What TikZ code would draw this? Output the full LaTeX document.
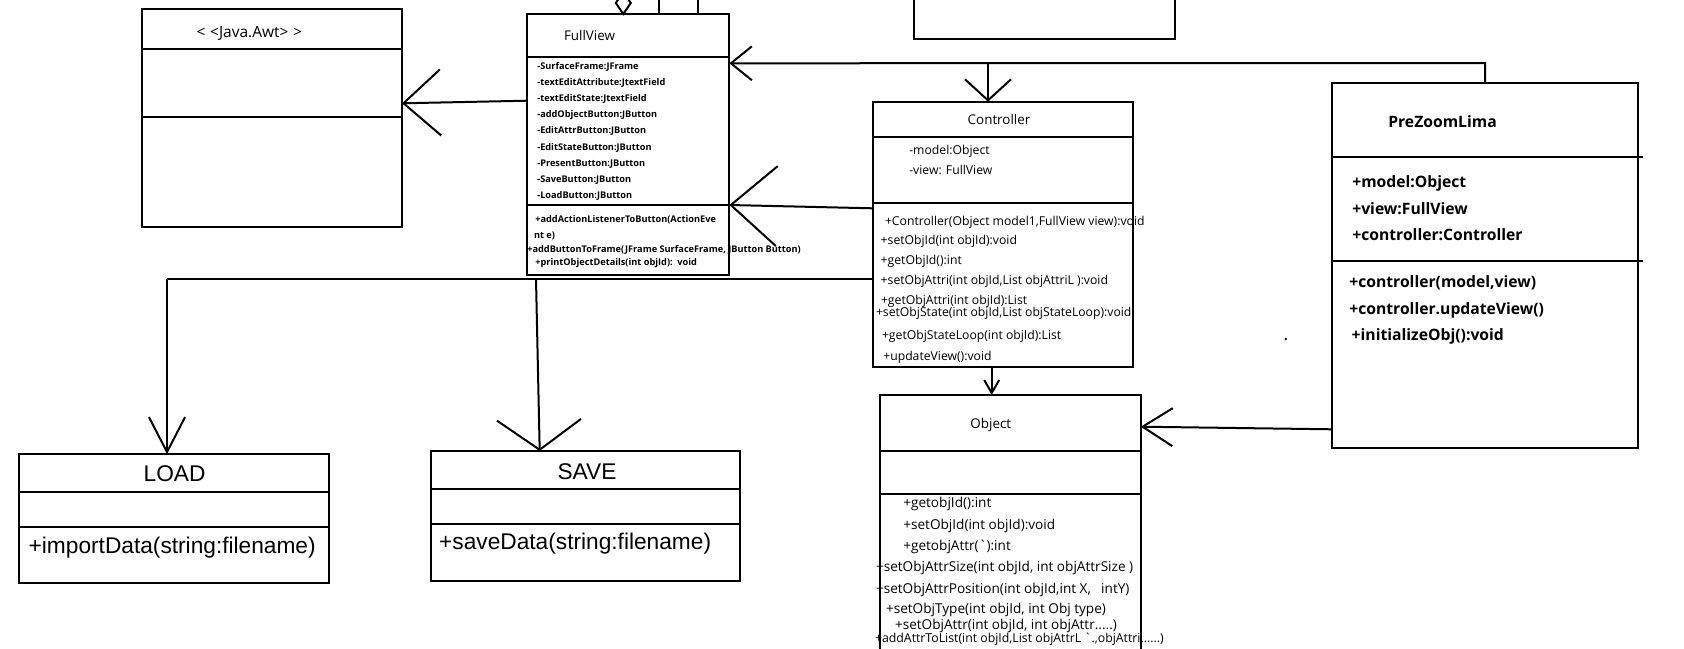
\documentclass[tikz,border=0pt]{standalone}
\usepackage{fontspec}
\setmainfont{Open Sans}
\newfontfamily\arialfont{Liberation Sans}
\usetikzlibrary{arrows.meta,shapes.geometric}

% font sizes (1pt = 1 unit of the drawing)
\newcommand\fsJava{\fontsize{15.5}{18}\selectfont}
\newcommand\fsTitle{\fontsize{13.4}{16}\selectfont}
\newcommand\fsFV{\fontsize{9.2}{11}\selectfont\bfseries}
\newcommand\fsCtl{\fontsize{12.2}{14}\selectfont}
\newcommand\fsObj{\fontsize{13.6}{16}\selectfont}
\newcommand\fsObjS{\fontsize{12.3}{14}\selectfont}
\newcommand\fsPZ{\fontsize{15.7}{18}\selectfont\bfseries}
\newcommand\fsIO{\fontsize{22.7}{26}\selectfont\arialfont}

\tikzset{
  umlbox/.style={draw, line width=2pt, inner sep=0pt, outer sep=0pt, anchor=north west},
  conn/.style={line width=2pt},
  txt/.style={inner sep=0pt, outer sep=0pt, anchor=base west},
  ttl/.style={inner sep=0pt, outer sep=0pt, anchor=base},
  barb/.style 2 args={conn, -{Straight Barb[length=#1, width=#2]}},
}

\begin{document}
\begin{tikzpicture}[x=1pt,y=-1pt]
\useasboundingbox (0,0) rectangle (1684,648);
\fill[white] (0,0) rectangle (1684,648);
\clip (0,0) rectangle (1684,648);

% ---------- class boxes ----------
\node[umlbox, minimum width=260.3pt, minimum height=218pt]   (java) at (141.7,8.7) {};
\node[umlbox, minimum width=202pt,   minimum height=261pt]   (fv)   at (527.3,14) {};
\node[umlbox, minimum width=261pt,   minimum height=69pt]    (top)  at (914,-30) {};
\node[umlbox, minimum width=260.6pt, minimum height=265.6pt] (ctrl) at (872.7,101.7) {};
\node[umlbox, minimum width=260.7pt, minimum height=275pt]   (obj)  at (880,395) {};
\node[umlbox, minimum width=306pt,   minimum height=365.6pt] (pzl)  at (1332.3,82.7) {};
\node[umlbox, minimum width=309.7pt, minimum height=128.7pt] (load) at (19.3,454.3) {};
\node[umlbox, minimum width=309.4pt, minimum height=129.7pt] (save) at (430.6,451) {};

% compartment lines
\draw[conn] (java.west |- 0,48.7)  -- (java.east |- 0,48.7);
\draw[conn] (java.west |- 0,116.7) -- (java.east |- 0,116.7);
\draw[conn] (fv.west |- 0,56.7)    -- (fv.east |- 0,56.7);
\draw[conn] (fv.west |- 0,204.7)   -- (fv.east |- 0,204.7);
\draw[conn] (ctrl.west |- 0,136.7) -- (ctrl.east |- 0,136.7);
\draw[conn] (ctrl.west |- 0,202.7) -- (ctrl.east |- 0,202.7);
\draw[conn] (obj.west |- 0,451)    -- (obj.east |- 0,451);
\draw[conn] (obj.west |- 0,494)    -- (obj.east |- 0,494);
\draw[conn] (pzl.west |- 0,157.3)  -- (1642.7,157.3);
\draw[conn] (pzl.west |- 0,260.7)  -- (1642.7,260.7);
\draw[conn] (load.west |- 0,492.3) -- (load.east |- 0,492.3);
\draw[conn] (load.west |- 0,527.3) -- (load.east |- 0,527.3);
\draw[conn] (save.west |- 0,489.3) -- (save.east |- 0,489.3);
\draw[conn] (save.west |- 0,524.3) -- (save.east |- 0,524.3);

% aggregation diamond and links on top of FullView
\node[diamond, draw, line width=2pt, inner sep=0pt, outer sep=0pt,
      minimum width=15pt, minimum height=22pt] (agg) at (623.3,3) {};
\draw[conn] (fv.north -| 659.3,0) -- (659.3,-10);
\draw[conn] (fv.north -| 698.3,0) -- (698.3,-10);

% ---------- texts ----------
\node[txt, font=\fsJava] (javat) at (196.7,37.1) {<\hspace{0.3em}<Java.Awt>\hspace{0.3em}>};

\node[txt, font=\fsTitle] (fvt) at (564,40.9) {FullView};
\foreach \t [count=\i] in {-SurfaceFrame:JFrame, -textEditAttribute:JtextField,
    -textEditState:JtextField, -addObjectButton:JButton, -EditAttrButton:JButton,
    -EditStateButton:JButton, -PresentButton:JButton, -SaveButton:JButton,
    -LoadButton:JButton}
  \node[txt, font=\fsFV] (fva\i) at (537.3,{52.8+16.2*\i}) {\t};
\node[txt, font=\fsFV] (fvm1) at (535.3,222.6) {+addActionListenerToButton(ActionEve};
\node[txt, font=\fsFV] (fvm2) at (534,238.3) {nt e)};
\node[txt, font=\fsFV] (fvm3) at (527.3,252.6) {+addButtonToFrame(JFrame SurfaceFrame, JButton Button)};
\node[txt, font=\fsFV] (fvm4) at (535.3,265) {+printObjectDetails(int objId):\enspace void};

\node[ttl, font=\fsTitle] (ctrlt) at (999,124) {Controller};
\node[txt, font=\fsCtl] (ca1) at (909.3,154.4) {-model:Object};
\node[txt, font=\fsCtl] (ca2) at (909.3,174.4) {-view: FullView};
\node[txt, font=\fsCtl] (cm1) at (885,225.4)   {+Controller(Object model1,FullView view):void};
\node[txt, font=\fsCtl] (cm2) at (880.7,244.4) {+setObjId(int objId):void};
\node[txt, font=\fsCtl] (cm3) at (880.7,264.4) {+getObjId():int};
\node[txt, font=\fsCtl] (cm4) at (880.7,284.4) {+setObjAttri(int objId,List objAttriL ):void};
\node[txt, font=\fsCtl] (cm5) at (881,304.4)   {+getObjAttri(int objId):List};
\node[txt, font=\fsCtl] (cm6) at (876,316.7)   {+setObjState(int objId,List objStateLoop):void};
\node[txt, font=\fsCtl] (cm7) at (882,339.4)   {+getObjStateLoop(int objId):List};
\node[txt, font=\fsCtl] (cm8) at (883.3,360.4) {+updateView():void};

\node[ttl, font=\fsTitle] (objt) at (990.8,428) {Object};
\node[txt, font=\fsObj] (om1) at (903.3,507.2) {+getobjId():int};
\node[txt, font=\fsObj] (om2) at (903.3,529.9) {+setObjId(int objId):void};
\node[txt, font=\fsObj] (om3) at (903.3,550.6) {+getobjAttr(\textasciigrave):int};
\node[txt, font=\fsObj] (om4) at (876,571.6)   {+setObjAttrSize(int objId, int objAttrSize )};
\node[txt, font=\fsObj] (om5) at (876,593.2)   {+setObjAttrPosition(int objId,int X,\enspace\ intY)};
\node[txt, font=\fsObj] (om6) at (886,613.2)   {+setObjType(int objId, int Obj type)};
\node[txt, font=\fsObj] (om7) at (895,629.9)   {+setObjAttr(int objId, int objAttr.....)};
\node[txt, font=\fsObjS] (om8) at (875,642.8)  {+addAttrToList(int objId,List objAttrL \textasciigrave.,objAttri......)};

\node[txt, font=\fsPZ] (pzt)  at (1388.3,127.3) {PreZoomLima};
\node[txt, font=\fsPZ] (pza1) at (1352.3,187.4) {+model:Object};
\node[txt, font=\fsPZ] (pza2) at (1352.3,214)   {+view:FullView};
\node[txt, font=\fsPZ] (pza3) at (1352.3,240)   {+controller:Controller};
\node[txt, font=\fsPZ] (pzm1) at (1349.3,287.4) {+controller(model,view)};
\node[txt, font=\fsPZ] (pzm2) at (1349.3,314)   {+controller.updateView()};
\node[txt, font=\fsPZ] (pzm3) at (1351.7,340.7) {+initializeObj():void};

\node[ttl, font=\fsIO] (loadt) at (174.6,481.3) {LOAD};
\node[txt, font=\fsIO] (loadm) at (28.7,553)    {+importData(string:filename)};
\node[ttl, font=\fsIO] (savet) at (587,479.7)   {SAVE};
\node[txt, font=\fsIO] (savem) at (439.2,549.7) {+saveData(string:filename)};

% ---------- connectors ----------
\draw[barb={37pt}{66pt}] (fv.west |- 0,100.7) -- (java.east |- 0,103.3);

\coordinate (jTop) at (988,63);
\draw[barb={21pt}{34pt}] (pzl.north -| 1485,0) -- (1485,63) -- (fv.east |- 0,63.3);
\draw[barb={21pt}{46pt}] (jTop) -- (ctrl.north -| 988,0);

\draw[barb={46pt}{80pt}] (ctrl.west |- 0,208.3) -- (fv.east |- 0,205);

\coordinate (jLoad) at (167,279);
\coordinate (jSave) at (536,279);
\draw[conn] (ctrl.west |- 0,279) -- (jLoad);
\draw[barb={35pt}{36pt}] (jLoad) -- (load.north -| 167,0);
\draw[barb={30pt}{84pt}] (jSave) -- (save.north -| 539.7,0);

\draw[barb={13pt}{15pt}] (ctrl.south -| 991.7,0) -- (obj.north -| 991.7,0);
\draw[barb={30pt}{38pt}] (pzl.west |- 0,429.3) -- (obj.east |- 0,426.7);

\fill (1285.7,339) circle (1.3pt);
\end{tikzpicture}
\end{document}
